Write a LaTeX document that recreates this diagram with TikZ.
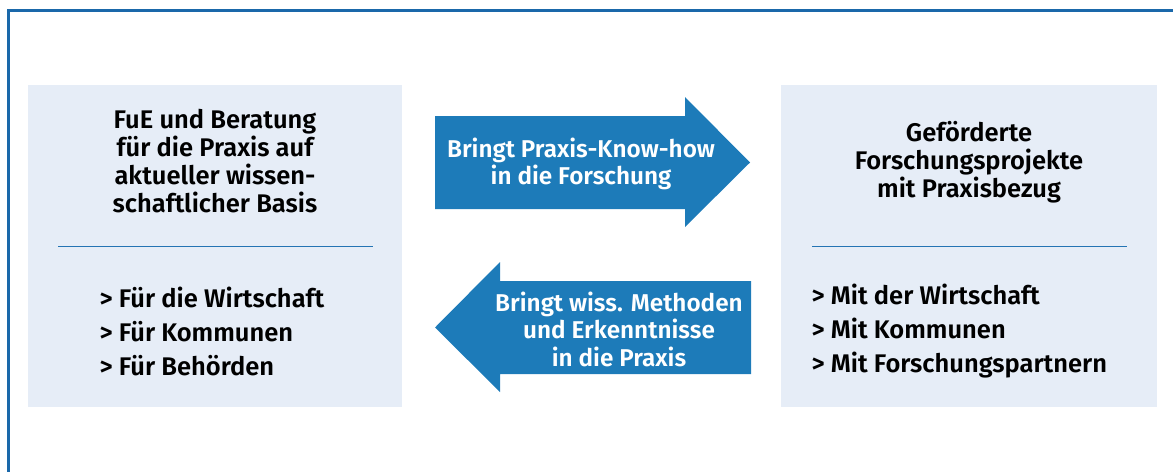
\documentclass[tikz,border=0pt]{standalone}
\usepackage{fontspec}
\setmainfont{Fira Sans SemiBold}
\usepackage{tikz}

\definecolor{rahmen}{HTML}{1A68AA}
\definecolor{pfeil}{HTML}{1D7BB9}
\definecolor{kasten}{HTML}{E6EDF7}
\definecolor{strich}{HTML}{2474B4}

\tikzset{
    titel/.style={align=center, font=\fontsize{25.5}{27.8}\selectfont},
    liste/.style={align=left, anchor=west, font=\fontsize{25.5}{34}\selectfont},
    pfeiltext/.style={align=center, text=white, font=\fontsize{24.3}{27.5}\selectfont}
}

\begin{document}
\begin{tikzpicture}[x=1pt, y=-1pt]
    \useasboundingbox (0,0) rectangle (1173,472);
    % Rahmen (nur oben und links)
    \draw[rahmen, line width=2.5pt] (1173,10.5) -- (8.5,10.5) -- (8.5,472);
    % Kaesten
    \fill[kasten] (28,85) rectangle (402,407);
    \fill[kasten] (781,85) rectangle (1157,407);
    \draw[strich, line width=1.3pt] (58,246.5) -- (373,246.5);
    \draw[strich, line width=1.3pt] (812,246.5) -- (1127,246.5);
    % Pfeile
    \fill[pfeil] (435,116) -- (685,116) -- (685,97) -- (750,162.5)
        -- (685,227) -- (685,209) -- (435,209) -- cycle;
    \fill[pfeil] (751,281) -- (500,281) -- (500,262) -- (435,327.5)
        -- (500,392) -- (500,374) -- (751,374) -- cycle;
    % Texte
    \node[titel] (fue) at (215,161) {FuE und Beratung\\für die Praxis auf\\aktueller wissen-\\schaftlicher Basis};
    \node[titel] (projekte) at (969,162) {Geförderte\\Forschungsprojekte\\mit Praxisbezug};
    \node[liste] (fuer) at (96,331) {> Für die Wirtschaft\\> Für Kommunen\\> Für Behörden};
    \node[liste] (mit) at (808,331) {> Mit der Wirtschaft\\> Mit Kommunen\\> Mit Forschungspartnern};
    \node[pfeiltext] (knowhow) at (581,164) {Bringt Praxis-Know-how\\in die Forschung};
    \node[pfeiltext] (methoden) at (619,329) {Bringt wiss. Methoden\\und Erkenntnisse\\in die Praxis};
\end{tikzpicture}
\end{document}
